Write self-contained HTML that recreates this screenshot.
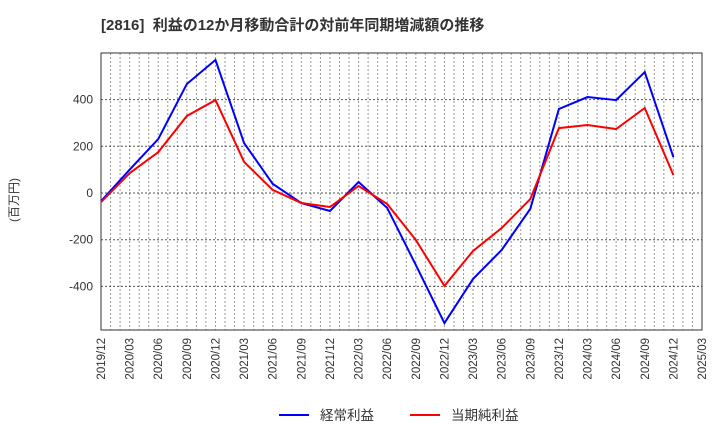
<!DOCTYPE html>
<html><head><meta charset="utf-8"><style>
body{margin:0;background:#fff;font-family:"Liberation Sans","Noto Sans CJK JP",sans-serif;}
</style></head><body>
<svg id="c" width="720" height="440" xmlns="http://www.w3.org/2000/svg">
<text x="101" y="30" font-size="15" font-weight="bold" fill="#333" xml:space="preserve" style="white-space:pre" font-family="Liberation Sans, Noto Sans CJK JP, sans-serif">[2816]  利益の12か月移動合計の対前年同期増減額の推移</text>
<text transform="translate(18,200) rotate(-90)" font-size="12" fill="#333" text-anchor="middle" font-family="Liberation Sans, Noto Sans CJK JP, sans-serif">(百万円)</text>
<g id="grid"></g><g id="axes"></g><g id="series"></g>
<g>
<line x1="279" y1="415" x2="309" y2="415" stroke="#0000ff" stroke-width="2"/>
<text x="320" y="420" font-size="13.5" fill="#333" font-family="Liberation Sans, Noto Sans CJK JP, sans-serif">経常利益</text>
<line x1="410" y1="415" x2="440" y2="415" stroke="#ff0000" stroke-width="2"/>
<text x="451" y="420" font-size="13.5" fill="#333" font-family="Liberation Sans, Noto Sans CJK JP, sans-serif">当期純利益</text>
</g>
</svg>
<script>
const categories=["2019/12","2020/03","2020/06","2020/09","2020/12","2021/03","2021/06","2021/09","2021/12","2022/03","2022/06","2022/09","2022/12","2023/03","2023/06","2023/09","2023/12","2024/03","2024/06","2024/09","2024/12"];
const tickLabels=["2019/12","2020/03","2020/06","2020/09","2020/12","2021/03","2021/06","2021/09","2021/12","2022/03","2022/06","2022/09","2022/12","2023/03","2023/06","2023/09","2023/12","2024/03","2024/06","2024/09","2024/12","2025/03"];
const keijo=[-35,100,231,467,570,214,39,-43,-77,47,-64,-308,-557,-368,-244,-68,360,411,398,518,154];
const junri=[-39,85,175,330,398,133,13,-43,-60,30,-47,-201,-398,-248,-150,-26,278,291,274,364,77];
const yTicks=[-400,-200,0,200,400];
const NS="http://www.w3.org/2000/svg";
const L=101,R=702,T=53,B=330;
const step=(R-L)/(tickLabels.length-1);
const x=i=>L+i*step;
const y=v=>193-v*(46.7/200);
function mk(tag,attrs,parent){const e=document.createElementNS(NS,tag);for(const k in attrs)e.setAttribute(k,attrs[k]);parent.appendChild(e);return e;}
const grid=document.getElementById('grid'),axes=document.getElementById('axes'),series=document.getElementById('series');
for(let m=1;m<63;m++){const xx=L+m*step/3;const l=mk('line',{x1:xx,x2:xx,y1:T,y2:B,stroke:'#999','stroke-width':1,'stroke-dasharray':'2,2'},grid);

}
yTicks.forEach(v=>{const l=mk('line',{x1:L,x2:R,y1:y(v),y2:y(v),stroke:'#555','stroke-width':1,'stroke-dasharray':'2,2'},grid);


const t=mk('text',{x:L-8,y:y(v)+4,'font-size':12,fill:'#333','text-anchor':'end'},axes);t.textContent=v;

});
const fr=mk('rect',{x:L,y:T,width:R-L,height:B-T,fill:'none',stroke:'#333','stroke-width':1},axes);


tickLabels.forEach((s,i)=>{const t=mk('text',{transform:`translate(${x(i)+4},${B+8}) rotate(-90)`,'font-size':11.5,fill:'#333','text-anchor':'end'},axes);t.textContent=s;

});
function line(vals,col,name){const p=mk('polyline',{points:vals.map((v,i)=>x(i)+','+y(v)).join(' '),fill:'none',stroke:col,'stroke-width':2},series);

}
line(keijo,'#0000ff','keijo-line');
line(junri,'#ff0000','junri-line');
</script>
</body></html>
